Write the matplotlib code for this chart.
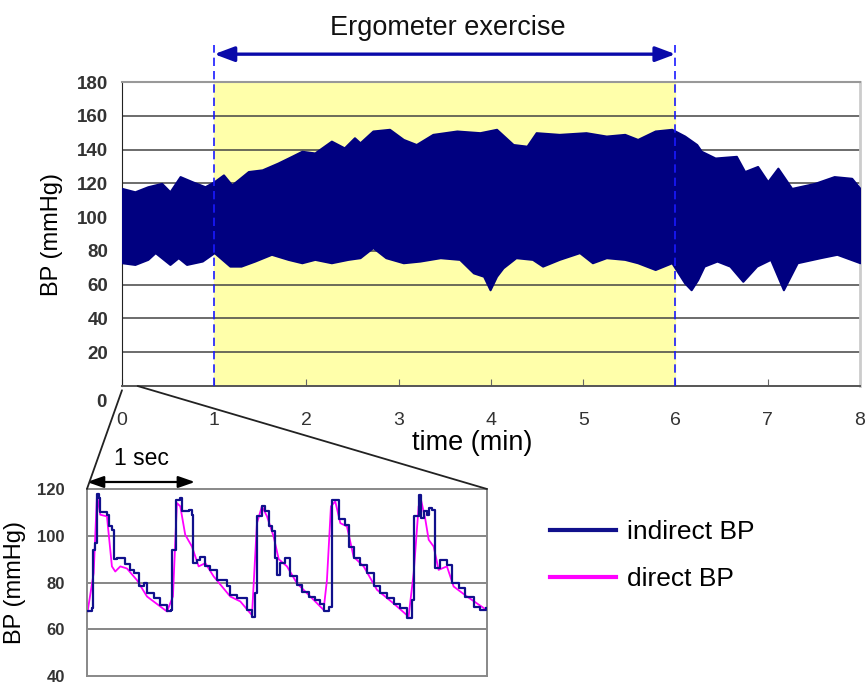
import matplotlib
matplotlib.use("Agg")
import matplotlib.pyplot as plt
from matplotlib.patches import ConnectionPatch

plt.rcParams["font.family"] = ["Liberation Sans", "DejaVu Sans"]

# ------------------------------------------------------------
# Top panel: BP envelope over the 8 min recording
# ------------------------------------------------------------
upper_t = [0.00, 0.14, 0.28, 0.43, 0.52, 0.63, 0.76, 0.90, 1.00, 1.10, 1.19, 1.37,
           1.52, 1.69, 1.84, 1.95, 2.09, 2.27, 2.41, 2.52, 2.58, 2.72, 2.90, 3.05,
           3.19, 3.37, 3.63, 3.88, 4.06, 4.24, 4.39, 4.49, 4.74, 5.03, 5.25, 5.45,
           5.59, 5.78, 5.96, 6.10, 6.23, 6.28, 6.43, 6.66, 6.75, 6.89, 7.00, 7.11,
           7.26, 7.51, 7.72, 7.91, 8.00]
upper_bp = [117, 115, 118, 120, 115, 124, 121, 118, 121, 125, 119, 127,
            128, 132, 136, 139, 138, 145, 141, 147, 144, 151, 152, 146,
            143, 149, 151, 150, 152, 143, 142, 150, 149, 150, 148, 149,
            146, 151, 152, 148, 143, 139, 135, 136, 127, 130, 121, 129,
            117, 120, 124, 123, 117]

lower_t = [0.00, 0.14, 0.28, 0.36, 0.52, 0.61, 0.70, 0.87, 1.00, 1.17, 1.29, 1.44,
           1.62, 1.80, 1.95, 2.09, 2.27, 2.45, 2.58, 2.72, 2.86, 3.05, 3.23, 3.45,
           3.66, 3.81, 3.92, 3.99, 4.06, 4.13, 4.27, 4.45, 4.56, 4.74, 4.96, 5.10,
           5.25, 5.45, 5.59, 5.78, 5.96, 6.10, 6.17, 6.24, 6.31, 6.45, 6.59, 6.73,
           6.88, 7.03, 7.17, 7.32, 7.57, 7.75, 8.00]
lower_bp = [73, 72, 75, 79, 72, 76, 72, 74, 79, 71, 71, 74,
            78, 75, 73, 75, 73, 75, 76, 82, 76, 73, 74, 76,
            75, 67, 65, 57, 65, 70, 76, 75, 71, 75, 79, 73,
            76, 75, 73, 69, 73, 61, 57, 63, 71, 74, 71, 62,
            71, 75, 57, 73, 76, 78, 73]

exercise_start = 1
exercise_end = 6

# ------------------------------------------------------------
# Inset: ~3.7 s of pulse waveforms (time in sec)
# ------------------------------------------------------------
indirect_t = [0.006, 0.046, 0.056, 0.077, 0.093, 0.108, 0.123, 0.170, 0.185, 0.201,
              0.231, 0.247, 0.278, 0.355, 0.401, 0.432, 0.478, 0.525, 0.556, 0.617,
              0.679, 0.741, 0.778, 0.787, 0.827, 0.864, 0.880, 0.941, 0.972, 0.981,
              1.019, 1.049, 1.096, 1.142, 1.204, 1.296, 1.327, 1.389, 1.481, 1.528,
              1.559, 1.574, 1.620, 1.651, 1.682, 1.713, 1.744, 1.759, 1.790, 1.836,
              1.883, 1.944, 1.991, 2.052, 2.114, 2.160, 2.191, 2.238, 2.269, 2.299,
              2.330, 2.392, 2.423, 2.469, 2.531, 2.593, 2.654, 2.716, 2.778, 2.840,
              2.901, 2.963, 3.009, 3.025, 3.071, 3.093, 3.117, 3.148, 3.164, 3.194,
              3.225, 3.272, 3.333, 3.380, 3.441, 3.503, 3.580, 3.642, 3.698]
indirect_bp = [67.6, 69.0, 94.0, 97.0, 118.0, 116.0, 110.0, 110.0, 109.0, 104.0,
               102.6, 90.0, 90.4, 88.0, 85.4, 84.0, 78.3, 79.7, 75.4, 73.3,
               70.4, 67.6, 68.3, 94.0, 115.4, 116.0, 110.4, 111.0, 109.0, 88.3,
               89.7, 91.0, 87.0, 85.4, 81.0, 78.3, 74.7, 73.3, 68.3, 65.4,
               75.4, 108.3, 112.6, 110.4, 104.0, 102.0, 90.4, 83.3, 88.3, 90.4,
               82.6, 79.0, 76.0, 74.0, 72.6, 71.0, 67.6, 69.7, 115.4, 115.4,
               107.0, 104.7, 95.4, 90.4, 87.6, 84.0, 78.3, 75.4, 73.3, 71.0,
               69.0, 64.7, 72.6, 108.3, 117.6, 107.6, 110.4, 109.0, 111.9, 111.0,
               86.0, 89.7, 87.6, 79.7, 77.6, 74.0, 69.7, 68.3, 69.0]

direct_t = [0.006, 0.062, 0.093, 0.123, 0.185, 0.231, 0.262, 0.309, 0.370, 0.463,
            0.556, 0.741, 0.796, 0.833, 0.864, 0.910, 0.972, 1.034, 1.096, 1.173,
            1.327, 1.420, 1.528, 1.574, 1.620, 1.667, 1.728, 1.775, 1.852, 1.944,
            2.068, 2.191, 2.222, 2.259, 2.299, 2.346, 2.407, 2.469, 2.562, 2.685,
            2.840, 2.978, 3.025, 3.071, 3.093, 3.133, 3.164, 3.210, 3.256, 3.333,
            3.395, 3.519, 3.698]
direct_bp = [67.6, 84.0, 117.6, 109.0, 108.3, 86.9, 84.7, 86.9, 86.0, 81.0,
             74.0, 67.6, 74.0, 114.0, 112.6, 100.4, 95.4, 86.9, 88.3, 82.6,
             74.0, 71.9, 66.0, 105.4, 112.6, 108.3, 99.7, 90.0, 86.9, 79.7,
             74.0, 68.3, 81.0, 112.6, 114.7, 105.4, 104.0, 91.0, 86.9, 76.9,
             71.0, 65.4, 84.0, 112.6, 115.4, 107.0, 98.3, 95.4, 85.4, 86.9,
             78.3, 74.0, 68.3]

navy = "#000080"
arrow_blue = "#0a0aaa"
tick_color = "#333333"

fig = plt.figure(figsize=(8.67, 6.87), dpi=100)

# ------------------------------------------------------------
# Top axes
# ------------------------------------------------------------
ax = fig.add_axes([0.1407, 0.4381, 0.8512, 0.4425])
ax.set_xlim(0, 8)
ax.set_ylim(0, 180)

ax.axvspan(exercise_start, exercise_end, color="#ffffaa", zorder=0)
for v in range(20, 180, 20):
    ax.axhline(v, color="#444444", lw=1.1, zorder=1)

# dense beat-to-beat trace drawn as its min/max band
ax.fill_between(lower_t, lower_bp, 100, color=navy, lw=1.5, ec=navy, zorder=3)
ax.fill_between(upper_t, 100, upper_bp, color=navy, lw=1.5, ec=navy, zorder=3)

for xv in (exercise_start, exercise_end):
    ax.axvline(xv, ymin=0, ymax=1.122, color="#1a1aff", lw=1.2,
               ls=(0, (5, 3)), clip_on=False, zorder=4)

ax.annotate("", xy=(exercise_start, 196.5), xytext=(exercise_end, 196.5),
            xycoords="data", annotation_clip=False,
            arrowprops=dict(arrowstyle="<|-|>,head_length=1.2,head_width=0.45",
                            color=arrow_blue, lw=2.4, shrinkA=0, shrinkB=0))
fig.text(0.516, 0.959, "Ergometer exercise", ha="center", va="center",
         fontsize=19.5, color="#111111")

ax.set_yticks(range(20, 200, 20))
ax.set_yticklabels([str(v) for v in range(20, 200, 20)], fontweight="bold")
ax.tick_params(axis="y", length=0, pad=10, labelsize=13.5, labelcolor=tick_color)
ax.set_xticks(range(0, 9))
ax.tick_params(axis="x", direction="in", length=5, color="#666666", pad=19,
               labelsize=14, labelcolor=tick_color)
ax.text(-0.22, -10, "0", ha="center", va="center", fontsize=13.5,
        fontweight="bold", color=tick_color, clip_on=False)

ax.spines["left"].set_color("#222222")
ax.spines["bottom"].set_color("#555555")
ax.spines["bottom"].set_linewidth(1.4)
ax.spines["top"].set_color("#999999")
ax.spines["top"].set_linewidth(1.5)
ax.spines["right"].set_color("#cccccc")
ax.spines["right"].set_linewidth(2)

ax.set_ylabel("BP (mmHg)", fontsize=17, labelpad=10)
fig.text(0.545, 0.355, "time (min)", ha="center", va="center", fontsize=19.5)

# ------------------------------------------------------------
# Inset axes
# ------------------------------------------------------------
ins = fig.add_axes([0.1003, 0.016, 0.4614, 0.2722])
ins.set_xlim(0, 3.704)
ins.set_ylim(40, 120)
for v in (60, 80, 100):
    ins.axhline(v, color="#666666", lw=1.1, zorder=1)
l_ind, = ins.plot(indirect_t, indirect_bp, color="#10108c", lw=1.6,
                  drawstyle="steps-post", zorder=3, label="indirect BP")
l_dir, = ins.plot(direct_t, direct_bp, color="#ff00ff", lw=1.3, zorder=2,
                  label="direct BP")
ins.set_xticks([])
ins.set_yticks([40, 60, 80, 100, 120])
ins.set_yticklabels(["40", "60", "80", "100", "120"], fontweight="bold")
ins.tick_params(axis="y", length=0, pad=16, labelsize=12, labelcolor=tick_color)
for s in ins.spines.values():
    s.set_color("#888888")
    s.set_linewidth(1.4)
ins.set_ylabel("BP (mmHg)", fontsize=17, labelpad=8)

ins.annotate("", xy=(0, 123), xytext=(1, 123), xycoords="data",
             annotation_clip=False,
             arrowprops=dict(arrowstyle="<|-|>,head_length=1.0,head_width=0.35",
                             color="black", lw=1.6, shrinkA=0, shrinkB=0))
ins.text(0.5, 133, "1 sec", ha="center", va="center", fontsize=16.5, clip_on=False)

# zoom connector lines from top axes to inset
for xa, ya, xb in ((0.0, -2.5, 0.0), (0.17, 0.0, 1.0)):
    con = ConnectionPatch(xyA=(xa, ya), coordsA=ax.transData,
                          xyB=(xb, 1.0), coordsB=ins.transAxes,
                          color="#222222", lw=1.3)
    fig.add_artist(con)

fig.legend(handles=[l_ind, l_dir], loc="upper left",
           bbox_to_anchor=(0.607, 0.277), frameon=False, fontsize=19,
           handlelength=2.5, handletextpad=0.4, labelspacing=0.85)
for h in fig.legends[0].get_lines():
    h.set_linewidth(3)

fig.savefig("out.png", dpi=100)
